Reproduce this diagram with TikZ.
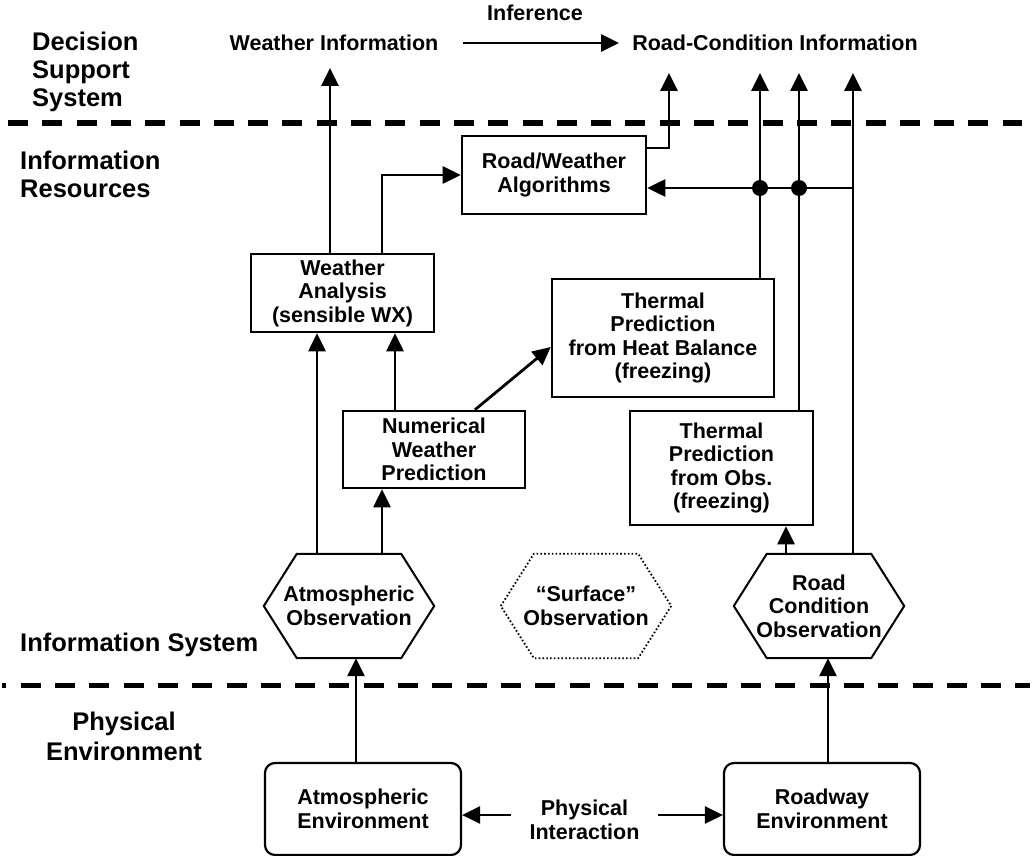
\documentclass[tikz,border=0pt]{standalone}
\usepackage{fontspec}
\setmainfont{Liberation Sans}
\usetikzlibrary{arrows.meta,calc}

\begin{document}
\begin{tikzpicture}[x=1pt,y=-1pt,
  every node/.style={font=\bfseries\fontsize{21.5}{23.5}\selectfont, align=center},
  box/.style={draw, line width=2.6pt, inner sep=0pt},
  envbox/.style={draw, line width=2.2pt, rounded corners=10pt,
    minimum width=196pt, minimum height=92pt, inner sep=0pt},
  hexcore/.style={minimum width=170pt, minimum height=104pt, inner sep=0pt},
  hexline/.style={line width=2pt, line join=miter},
  dottedhex/.style={line width=1.8pt, dash pattern=on 1.6pt off 2.2pt},
  region/.style={font=\bfseries\fontsize{25.5}{28}\selectfont, inner sep=0pt},
  link/.style={line width=2.8pt, -{Triangle[length=18pt,width=17pt]}},
  plain/.style={line width=2.8pt},
  divider/.style={line width=5.5pt, dash pattern=on 20pt off 14.3pt},
]
\useasboundingbox (0,0) rectangle (1034,856);

% layer dividers
\draw[divider] (8,123) -- (1022,123);
\draw[divider, dash phase=15.3pt] (1.7,685.5) -- (1030,685.5);

% layer names
\node[region, anchor=west, align=left] (dss) at (32,72) {Decision\\Support\\System};
\node[region, anchor=west, align=left] (ires) at (20,174) {Information\\Resources};
\node[region, anchor=west, align=left] (isys) at (20,645) {Information System};
\node[region, align=center, font=\bfseries\fontsize{25.5}{30}\selectfont] (penv) at (124,736) {Physical\\Environment};

% decision support products
\node[inner xsep=24pt, inner ysep=17pt, text depth=0pt] (wxinfo) at (334,43) {Weather Information};
\node[inner xsep=13pt, inner ysep=22pt, text depth=0pt] (rcinfo) at (775,43) {Road-Condition Information};
\node (infer) at (535,13) {Inference};
\draw[link] (wxinfo.east) -- (rcinfo.west);

% information resources
\node[box, minimum width=184pt, minimum height=78pt] (rwa) at (554,175) {Road/Weather\\Algorithms};
\node[box, minimum width=183pt, minimum height=78pt] (wa) at (342.5,293) {Weather\\Analysis\\(sensible WX)};
\node[box, minimum width=182pt, minimum height=77pt] (nwp) at (434,449.5) {Numerical\\Weather\\Prediction};
\node[box, minimum width=222pt, minimum height=118pt] (tphb) at (663,338) {Thermal\\Prediction\\from Heat Balance\\(freezing)};
\node[box, minimum width=183pt, minimum height=114pt] (tpo) at (721.5,468) {Thermal\\Prediction\\from Obs.\\(freezing)};

% observations
\node[hexcore] (atmobs) at (349,606) {Atmospheric\\Observation};
\node[hexcore] (surfobs) at (586,606) {\char"201C Surface\char"201D\\Observation};
\node[hexcore] (roadobs) at (819,606) {Road\\Condition\\Observation};
\foreach \h/\s in {atmobs/hexline, roadobs/hexline, surfobs/dottedhex}
  \draw[\s] (\h.west) -- ([xshift=33pt]\h.north west) -- ([xshift=-33pt]\h.north east)
     -- (\h.east) -- ([xshift=-33pt]\h.south east) -- ([xshift=33pt]\h.south west) -- cycle;

% physical environment
\node[envbox] (atmenv) at (363,809) {Atmospheric\\Environment};
\node[envbox] (roadenv) at (822,809) {Roadway\\Environment};
\node[inner xsep=18pt, inner ysep=2pt] (phys) at (584.5,820) {Physical\\Interaction};
\draw[link] ([yshift=5pt]phys.west) -- ([yshift=5pt]phys.west -| atmenv.east);
\draw[link] ([yshift=5pt]phys.east) -- ([yshift=5pt]phys.east -| roadenv.west);

% sensing
\draw[link] ([xshift=-7pt]atmenv.north) -- ([xshift=-7pt]atmenv.north |- atmobs.south);
\draw[link] ([xshift=6pt]roadenv.north) -- ([xshift=6pt]roadenv.north |- roadobs.south);

% atmospheric chain
\draw[link] ([xshift=-32pt]atmobs.north) -- ([xshift=-32pt]atmobs.north |- wa.south);
\draw[link] ([xshift=33pt]atmobs.north) -- ([xshift=33pt]atmobs.north |- nwp.south);
\draw[link] ([xshift=-39pt]nwp.north) -- ([xshift=-39pt]nwp.north |- wa.south);
\draw[link] ([xshift=41pt]nwp.north) -- ([yshift=-9pt]tphb.west);
\draw[link] ([xshift=-12.5pt]wa.north) -- ([xshift=-12.5pt]wa.north |- wxinfo.south);
\draw[link] ([xshift=39.5pt]wa.north) |- (rwa.west);

% road chain
\draw[link] ([xshift=-33pt]roadobs.north) -- ([xshift=-33pt]roadobs.north |- tpo.south);
\draw[link] ([yshift=27pt]rwa.east) -| ([xshift=-106pt]rcinfo.south);
\coordinate (hbtop) at ([xshift=97pt]tphb.north);
\coordinate (obtop) at ([xshift=77.5pt]tpo.north);
\coordinate (rotop) at ([xshift=34pt]roadobs.north);
\coordinate (rin) at ([yshift=-13pt]rwa.east);
\draw[link] (hbtop) -- (hbtop |- rcinfo.south);
\draw[link] (obtop) -- (obtop |- rcinfo.south);
\draw[link] (rotop) -- (rotop |- rcinfo.south);
\draw[link] (rotop |- rin) -- (rin);
\fill (hbtop |- rin) circle (8pt);
\fill (obtop |- rin) circle (8pt);
\end{tikzpicture}
\end{document}
